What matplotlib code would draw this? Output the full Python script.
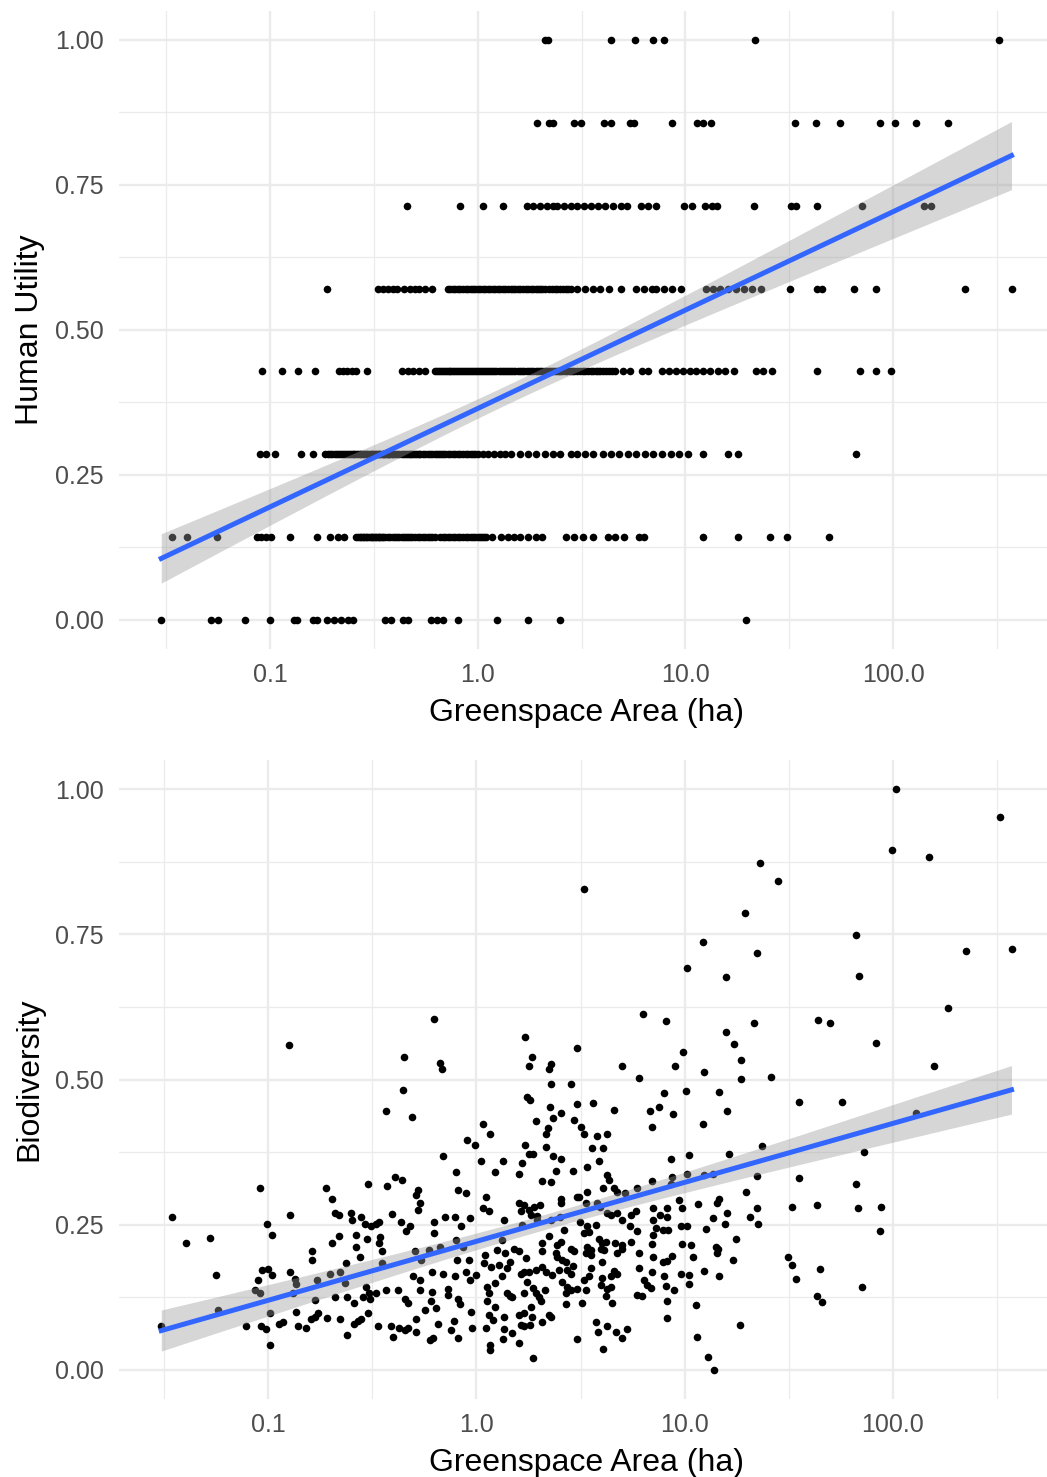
import numpy as np
import matplotlib
matplotlib.use("Agg")
import matplotlib.pyplot as plt

plt.rcParams['font.family'] = ['Liberation Sans', 'DejaVu Sans']

# ---- top panel: Human Utility (scores in steps of 1/7), greenspace area in ha per level
utility_levels = [0, 1 / 7, 2 / 7, 3 / 7, 4 / 7, 5 / 7, 6 / 7, 1]
area_u0 = [0.030, 0.052, 0.056, 0.076, 0.100, 0.130, 0.135, 0.161, 0.169, 0.188, 0.203, 0.220,
           0.237, 0.252, 0.357, 0.384, 0.435, 0.463, 0.594, 0.640, 0.681, 0.800, 1.24, 1.74,
           2.48, 19.5]
area_u1 = [0.0338, 0.040, 0.0556, 0.087, 0.091, 0.096, 0.101, 0.125, 0.168, 0.195, 0.212, 0.228,
           0.26, 0.27, 0.28, 0.29, 0.30, 0.31, 0.32, 0.33, 0.34, 0.35, 0.37, 0.39, 0.41,
           0.43, 0.45, 0.47, 0.50, 0.53, 0.56, 0.59, 0.62, 0.68, 0.72, 0.76, 0.80, 0.85, 0.90,
           0.95, 1.0, 1.05, 1.1, 1.17, 1.3, 1.4, 1.5, 1.6, 1.75, 1.9, 2.05, 2.65, 2.9, 3.2, 3.6,
           4.23, 4.58, 5.09, 5.95, 6.33, 12.2, 18.0, 25.6, 30.9, 49.2]
area_u2 = [0.0898, 0.0955, 0.106, 0.141, 0.161, 0.185, 0.195, 0.205, 0.215, 0.225, 0.235, 0.245,
           0.255, 0.265, 0.275, 0.285, 0.30, 0.31, 0.32, 0.33, 0.345, 0.36, 0.375, 0.39, 0.41,
           0.43, 0.45, 0.47, 0.49, 0.51, 0.53, 0.56, 0.59, 0.62, 0.65, 0.68, 0.72, 0.76, 0.80,
           0.85, 0.90, 0.95, 1.0, 1.06, 1.12, 1.2, 1.28, 1.36, 1.45, 1.6, 1.75, 1.9, 2.1, 2.3,
           2.5, 2.8, 3.0, 3.3, 3.6, 4.0, 4.4, 4.8, 5.3, 5.8, 6.4, 7.0, 7.7, 8.5, 9.3, 10.3,
           12.2, 16.1, 18.0, 66.0]
area_u3 = [0.0914, 0.115, 0.136, 0.164, 0.214, 0.225, 0.235, 0.248, 0.26, 0.292, 0.43, 0.46,
           0.49, 0.52, 0.56, 0.62, 0.65, 0.68, 0.71, 0.74, 0.77, 0.80, 0.84, 0.88, 0.92, 0.96,
           1.0, 1.05, 1.1, 1.15, 1.2, 1.26, 1.32, 1.38, 1.45, 1.52, 1.6, 1.68, 1.76, 1.85, 1.95,
           2.05, 2.15, 2.25, 2.35, 2.45, 2.55, 2.7, 2.85, 3.0, 3.2, 3.4, 3.6, 3.8, 4.0, 4.3, 4.6,
           5.0, 5.4, 6.21, 6.6, 7.7, 8.3, 9.0, 9.7, 10.5, 11.3, 12.2, 13.2, 14.3, 15.5, 17.1,
           21.8, 23.6, 26.0, 42.9, 68.9, 83.1, 98.0]
area_u4 = [0.189, 0.33, 0.35, 0.37, 0.39, 0.41, 0.44, 0.47, 0.50, 0.52, 0.56, 0.60, 0.72, 0.76,
           0.80, 0.85, 0.90, 0.95, 1.0, 1.06, 1.12, 1.18, 1.25, 1.32, 1.4, 1.48, 1.56, 1.65,
           1.75, 1.85, 1.95, 2.05, 2.2, 2.35, 2.5, 2.65, 2.8, 3.0, 3.3, 3.6, 3.9, 4.3, 4.9, 5.8,
           6.3, 6.9, 7.2, 7.9, 8.6, 9.5, 12.5, 13.5, 14.7, 16.0, 17.5, 19.2, 20.8, 23.2, 31.7,
           43.2, 45.5, 64.7, 83.1, 221, 371]
area_u5 = [0.458, 0.82, 1.06, 1.32, 1.72, 1.85, 2.0, 2.15, 2.3, 2.42, 2.6, 2.8, 3.0, 3.24, 3.5,
           3.8, 4.1, 4.5, 4.9, 5.25, 6.1, 6.6, 7.2, 9.8, 10.7, 12.4, 13.4, 14.2, 21.3, 32.1,
           34.1, 43.2, 71.0, 141, 152]
area_u6 = [1.92, 2.2, 2.31, 2.91, 3.16, 4.05, 4.36, 5.42, 5.66, 8.6, 11.4, 12.2, 13.3, 33.8,
           42.7, 55.7, 86, 102, 129, 184]
area_u7 = [2.11, 2.18, 4.36, 5.7, 6.95, 7.87, 21.7, 323]

# points hidden inside the solid runs of the four middle rows (overlapping markers)
dense_u1 = [0.265, 0.275, 0.285, 0.295, 0.305, 0.315, 0.325, 0.335, 0.345, 0.36, 0.38, 0.40,
            0.42, 0.44, 0.46, 0.485, 0.515, 0.545, 0.575, 0.605, 0.66, 0.70, 0.74, 0.78, 0.825,
            0.875, 0.925, 0.975, 1.025, 1.075]
dense_u2 = [0.19, 0.20, 0.21, 0.22, 0.23, 0.24, 0.25, 0.26, 0.27, 0.28, 0.29, 0.295, 0.305,
            0.315, 0.325, 0.335, 0.34, 0.35, 0.355, 0.365, 0.37, 0.38, 0.385, 0.40, 0.42, 0.44,
            0.46, 0.48, 0.50, 0.52, 0.545, 0.575, 0.605, 0.635, 0.665, 0.70, 0.74, 0.78, 0.825,
            0.875, 0.925, 0.975]
dense_u3 = [0.635, 0.665, 0.695, 0.725, 0.755, 0.785, 0.82, 0.86, 0.90, 0.94, 0.98, 1.025, 1.075,
            1.125, 1.175, 1.23, 1.29, 1.35, 1.415, 1.485, 1.56, 1.64, 1.72, 1.80, 1.90, 2.0, 2.1,
            2.2, 2.3, 2.4, 2.5, 2.62, 2.78, 2.92, 3.1, 3.3, 3.5, 3.7, 3.9, 4.15, 4.45]
dense_u4 = [0.74, 0.78, 0.825, 0.875, 0.925, 0.975, 1.03, 1.09, 1.15, 1.21, 1.285, 1.36, 1.44,
            1.52, 1.6, 1.7, 1.8, 1.9, 2.0, 2.12, 2.27, 2.42, 2.58, 2.72]

utility_areas = [area_u0, area_u1 + dense_u1, area_u2 + dense_u2, area_u3 + dense_u3,
                 area_u4 + dense_u4, area_u5, area_u6, area_u7]

# ---- bottom panel: (log10 area in ha, biodiversity)
bio_upper = [(2.013, 1.0), (2.516, 0.952), (1.995, 0.896), (2.174, 0.883), (1.364, 0.872),
             (1.447, 0.842), (0.519, 0.828), (1.291, 0.787), (1.824, 0.748), (1.086, 0.737),
             (2.353, 0.722), (2.57, 0.725), (1.348, 0.717), (1.013, 0.692), (1.837, 0.678),
             (1.198, 0.676), (2.267, 0.624), (-0.206, 0.605), (0.8, 0.613), (0.912, 0.601),
             (1.639, 0.602), (1.698, 0.597), (1.332, 0.597), (1.2, 0.582), (0.235, 0.574),
             (-0.901, 0.559), (1.238, 0.562), (1.92, 0.563), (0.484, 0.554), (0.992, 0.547),
             (-0.35, 0.538), (0.265, 0.538), (-0.176, 0.529), (-0.166, 0.519), (0.254, 0.524),
             (0.356, 0.526), (0.35, 0.519), (0.698, 0.523), (0.955, 0.523), (1.273, 0.533),
             (1.094, 0.513), (2.2, 0.523), (0.783, 0.503), (1.417, 0.505), (1.273, 0.501)]
bio_left = [(-0.353, 0.482), (-0.436, 0.445), (-0.311, 0.436), (-1.462, 0.264), (-1.397, 0.218),
            (-1.282, 0.228), (-1.253, 0.164), (-1.242, 0.104), (-1.514, 0.076), (-1.042, 0.314),
            (-1.006, 0.252), (-0.981, 0.232), (-0.894, 0.267), (-1.05, 0.155), (-1.029, 0.172),
            (-1.002, 0.173), (-0.981, 0.164), (-1.066, 0.137), (-1.038, 0.132), (-1.109, 0.076),
            (-1.034, 0.075), (-1.01, 0.070), (-0.994, 0.098), (-0.99, 0.043), (-0.946, 0.080),
            (-0.929, 0.083), (-0.897, 0.168), (-0.873, 0.156), (-0.869, 0.148), (-0.881, 0.132),
            (-0.865, 0.100), (-0.857, 0.075), (-0.817, 0.073), (-0.788, 0.205), (-0.788, 0.189),
            (-0.766, 0.155), (-0.777, 0.120), (-0.777, 0.092), (-0.761, 0.098), (-0.793, 0.087),
            (-0.721, 0.314), (-0.692, 0.294), (-0.681, 0.270), (-0.66, 0.267), (-0.66, 0.231),
            (-0.692, 0.218), (-0.705, 0.165), (-0.657, 0.168), (-0.681, 0.126), (-0.718, 0.089),
            (-0.654, 0.087), (-0.625, 0.185), (-0.633, 0.149), (-0.622, 0.060), (-0.622, 0.125),
            (-0.601, 0.271), (-0.596, 0.259), (-0.577, 0.232), (-0.58, 0.212), (-0.558, 0.195),
            (-0.556, 0.264), (-0.59, 0.115), (-0.59, 0.079), (-0.569, 0.085), (-0.553, 0.087),
            (-0.537, 0.252), (-0.526, 0.225), (-0.521, 0.320), (-0.545, 0.126), (-0.529, 0.143),
            (-0.516, 0.132), (-0.513, 0.123), (-0.521, 0.098), (-0.505, 0.247), (-0.481, 0.252),
            (-0.468, 0.255), (-0.465, 0.229), (-0.468, 0.218), (-0.452, 0.204), (-0.452, 0.184),
            (-0.481, 0.132), (-0.473, 0.075), (-0.433, 0.138), (-0.429, 0.316), (-0.404, 0.268),
            (-0.393, 0.333), (-0.356, 0.327), (-0.409, 0.075), (-0.401, 0.056), (-0.377, 0.137),
            (-0.361, 0.255), (-0.337, 0.240), (-0.321, 0.247), (-0.372, 0.072), (-0.345, 0.069),
            (-0.329, 0.073), (-0.345, 0.123), (-0.329, 0.115), (-0.304, 0.161), (-0.296, 0.205),
            (-0.288, 0.066), (-0.292, 0.087), (-0.272, 0.138), (-0.269, 0.155), (-0.28, 0.310),
            (-0.288, 0.301), (-0.269, 0.287), (-0.28, 0.275), (-0.264, 0.189), (-0.248, 0.103),
            (-0.228, 0.207), (-0.224, 0.052), (-0.208, 0.055), (-0.205, 0.255), (-0.205, 0.236),
            (-0.212, 0.168), (-0.212, 0.135), (-0.216, 0.118), (-0.192, 0.106), (-0.184, 0.079),
            (-0.176, 0.212), (-0.16, 0.166), (-0.16, 0.368), (-0.152, 0.264), (-0.136, 0.139),
            (-0.136, 0.129), (-0.12, 0.069), (-0.104, 0.264), (-0.096, 0.341), (-0.088, 0.310),
            (-0.096, 0.224), (-0.093, 0.189), (-0.104, 0.161), (-0.088, 0.123), (-0.08, 0.114),
            (-0.109, 0.085), (-0.088, 0.055), (-0.072, 0.247), (-0.064, 0.212), (-0.048, 0.304),
            (-0.045, 0.396), (-0.035, 0.189), (-0.051, 0.168), (-0.032, 0.155), (-0.029, 0.262),
            (-0.024, 0.100), (-0.019, 0.073), (-0.008, 0.387), (0.0, 0.164)]
bio_middle = [(0.356, 0.492), (0.452, 0.492), (0.901, 0.477), (1.005, 0.480), (1.165, 0.479),
              (0.244, 0.470), (0.256, 0.465), (0.481, 0.458), (0.561, 0.459), (0.353, 0.453),
              (0.407, 0.443), (0.660, 0.448), (0.832, 0.445), (0.877, 0.453), (0.946, 0.440),
              (1.205, 0.445), (0.288, 0.429), (0.369, 0.433), (0.468, 0.431), (0.5, 0.419),
              (0.030, 0.423), (0.064, 0.406), (0.343, 0.416), (0.332, 0.407), (0.516, 0.406),
              (0.577, 0.402), (0.628, 0.407), (0.845, 0.418), (1.090, 0.423), (0.231, 0.387),
              (0.332, 0.384), (0.556, 0.383), (0.609, 0.383), (0.252, 0.372), (0.272, 0.372),
              (0.369, 0.368), (0.407, 0.363), (0.022, 0.359), (0.127, 0.360), (0.220, 0.357),
              (0.588, 0.360), (0.933, 0.364), (1.021, 0.370), (1.213, 0.372), (0.091, 0.341),
              (0.204, 0.337), (0.380, 0.343), (0.465, 0.343), (0.532, 0.349), (0.628, 0.336),
              (0.636, 0.327), (0.313, 0.326), (0.356, 0.324), (0.845, 0.326), (0.941, 0.333),
              (1.013, 0.337), (1.093, 0.336), (1.138, 0.337), (0.609, 0.313), (0.663, 0.313),
              (0.676, 0.307), (0.712, 0.305), (0.532, 0.307), (0.772, 0.313), (0.933, 0.321),
              (0.048, 0.297), (0.032, 0.278), (0.059, 0.273), (0.204, 0.288), (0.228, 0.284),
              (0.276, 0.281), (0.304, 0.284), (0.404, 0.295), (0.404, 0.287), (0.481, 0.298),
              (0.492, 0.297), (0.524, 0.288), (0.580, 0.287), (0.593, 0.281), (0.260, 0.267),
              (0.292, 0.265), (0.252, 0.275), (0.215, 0.273), (0.131, 0.259), (0.356, 0.259),
              (0.401, 0.263), (0.973, 0.293), (0.989, 0.278), (1.064, 0.286), (1.165, 0.295),
              (1.157, 0.287), (1.205, 0.271), (0.849, 0.278), (0.881, 0.267), (0.913, 0.278),
              (0.917, 0.264), (0.220, 0.250), (0.292, 0.258), (0.497, 0.255), (0.529, 0.247),
              (0.572, 0.250), (0.700, 0.258), (0.740, 0.267), (0.764, 0.273), (0.628, 0.270),
              (0.644, 0.267), (0.676, 0.270), (0.849, 0.258), (0.861, 0.244), (0.897, 0.241),
              (0.920, 0.241), (0.981, 0.248), (1.013, 0.247), (1.101, 0.242), (1.138, 0.261),
              (1.192, 0.251), (0.348, 0.231), (0.420, 0.241), (0.516, 0.236), (0.540, 0.238),
              (0.737, 0.248), (0.772, 0.240), (0.849, 0.232), (0.123, 0.223), (0.099, 0.207),
              (0.139, 0.201), (0.179, 0.209), (0.204, 0.204), (0.316, 0.218), (0.388, 0.215),
              (0.404, 0.221), (0.452, 0.209), (0.532, 0.212), (0.548, 0.207), (0.588, 0.225),
              (0.604, 0.218), (0.620, 0.221), (0.665, 0.219), (0.700, 0.215), (0.740, 0.221),
              (0.596, 0.209), (0.612, 0.207), (0.676, 0.201), (0.700, 0.209), (0.043, 0.198),
              (0.035, 0.185), (0.071, 0.178), (0.163, 0.186), (0.236, 0.192), (0.316, 0.204),
              (0.380, 0.201), (0.388, 0.195), (0.412, 0.189), (0.428, 0.186), (0.468, 0.204),
              (0.524, 0.201), (0.548, 0.198), (0.604, 0.186), (0.780, 0.201), (0.845, 0.217),
              (0.849, 0.195), (0.941, 0.196), (0.897, 0.186), (0.917, 0.188), (0.989, 0.217),
              (1.029, 0.215), (1.042, 0.195), (1.149, 0.212), (1.157, 0.201), (1.160, 0.209),
              (0.123, 0.161), (0.107, 0.181), (0.147, 0.175), (0.212, 0.166), (0.228, 0.169),
              (0.252, 0.169), (0.284, 0.172), (0.316, 0.178), (0.332, 0.169), (0.364, 0.164),
              (0.396, 0.172), (0.436, 0.172), (0.452, 0.166), (0.465, 0.179), (0.516, 0.155),
              (0.540, 0.161), (0.548, 0.175), (0.604, 0.158), (0.644, 0.161), (0.663, 0.171),
              (0.673, 0.166), (0.780, 0.175), (0.845, 0.169), (0.901, 0.161), (0.984, 0.166),
              (1.021, 0.164), (1.093, 0.171), (1.165, 0.161), (0.051, 0.143), (0.059, 0.132),
              (0.091, 0.149), (0.147, 0.133), (0.160, 0.127), (0.171, 0.125), (0.228, 0.132),
              (0.244, 0.152), (0.272, 0.141), (0.284, 0.132), (0.300, 0.126), (0.327, 0.138),
              (0.412, 0.151), (0.428, 0.132), (0.436, 0.143), (0.452, 0.137), (0.481, 0.139),
              (0.524, 0.138), (0.596, 0.146), (0.625, 0.139), (0.644, 0.143), (0.804, 0.155),
              (0.817, 0.146), (0.772, 0.129), (0.796, 0.127), (0.837, 0.141), (0.909, 0.145),
              (0.949, 0.137), (1.021, 0.148), (0.051, 0.118), (0.059, 0.095), (0.080, 0.086),
              (0.091, 0.109), (0.131, 0.091), (0.204, 0.095), (0.228, 0.098), (0.260, 0.109),
              (0.268, 0.091), (0.308, 0.119), (0.348, 0.095), (0.428, 0.114), (0.508, 0.116),
              (0.620, 0.127), (0.652, 0.116), (0.917, 0.118), (1.053, 0.112), (0.048, 0.072),
              (0.131, 0.070), (0.171, 0.064), (0.212, 0.077), (0.228, 0.075), (0.256, 0.077),
              (0.316, 0.083), (0.356, 0.092), (0.572, 0.083), (0.583, 0.066), (0.628, 0.075),
              (0.668, 0.066), (0.700, 0.055), (0.721, 0.070), (0.917, 0.089), (1.058, 0.056),
              (0.064, 0.043), (0.067, 0.034), (0.128, 0.053), (0.204, 0.047), (0.272, 0.020),
              (0.481, 0.053), (0.609, 0.036), (1.112, 0.022), (1.141, 0.0)]
bio_right = [(1.548, 0.461), (1.756, 0.461), (2.112, 0.442), (1.372, 0.386), (1.861, 0.376),
             (1.348, 0.334), (1.550, 0.331), (1.824, 0.320), (1.295, 0.306), (1.346, 0.279),
             (1.516, 0.281), (1.635, 0.284), (1.832, 0.279), (1.941, 0.281), (1.314, 0.263),
             (1.351, 0.252), (1.936, 0.239), (1.245, 0.226), (1.232, 0.190), (1.495, 0.194),
             (1.516, 0.181), (1.651, 0.174), (1.535, 0.156), (1.851, 0.142), (1.636, 0.128),
             (1.660, 0.117), (1.266, 0.077)]

x_ticks = [0.1, 1.0, 10.0, 100.0]
x_tick_labels = ["0.1", "1.0", "10.0", "100.0"]
y_ticks = [0.0, 0.25, 0.5, 0.75, 1.0]
y_tick_labels = ["0.00", "0.25", "0.50", "0.75", "1.00"]


def lm_band(x, y, n_grid=100):
    # linear fit on log10(area) with a 95% confidence band, as geom_smooth(method="lm")
    lx = np.log10(x)
    slope, icpt = np.polyfit(lx, y, 1)
    gx = np.linspace(lx.min(), lx.max(), n_grid)
    fit = icpt + slope * gx
    resid = y - (icpt + slope * lx)
    n = len(y)
    s = np.sqrt(np.sum(resid ** 2) / (n - 2))
    se = s * np.sqrt(1 / n + (gx - lx.mean()) ** 2 / np.sum((lx - lx.mean()) ** 2))
    return 10 ** gx, fit, 1.965 * se


def style_axis(ax, x, ylabel):
    lx = np.log10(x)
    span = lx.max() - lx.min()
    ax.set_xscale('log')
    ax.set_xlim(10 ** (lx.min() - 0.05 * span), 10 ** (lx.max() + 0.05 * span))
    ax.set_ylim(-0.05, 1.05)
    ax.set_xticks(x_ticks)
    ax.set_xticklabels(x_tick_labels)
    ax.set_xticks([10 ** v for v in (-1.5, -0.5, 0.5, 1.5, 2.5)], minor=True)
    ax.set_xticklabels([], minor=True)
    ax.set_yticks(y_ticks)
    ax.set_yticklabels(y_tick_labels)
    ax.set_yticks([0.125, 0.375, 0.625, 0.875], minor=True)
    ax.grid(which='major', color='#EBEBEB', linewidth=1.7)
    ax.grid(which='minor', color='#EBEBEB', linewidth=0.9)
    ax.set_axisbelow(True)
    for sp in ax.spines.values():
        sp.set_visible(False)
    ax.tick_params(which='both', length=0, labelsize=18, labelcolor='#4D4D4D')
    ax.tick_params(axis='x', pad=10)
    ax.tick_params(axis='y', pad=11)
    ax.set_xlabel("Greenspace Area (ha)", fontsize=23, labelpad=8)
    ax.set_ylabel(ylabel, fontsize=23, labelpad=7)


fig = plt.figure(figsize=(10.47, 14.77), dpi=100)
ax1 = fig.add_axes([0.1134, 0.5606, 0.8933, 0.432])
ax2 = fig.add_axes([0.1134, 0.0528, 0.8933, 0.4326])

# top panel
ux = np.concatenate([np.array(a, dtype=float) for a in utility_areas])
uy = np.concatenate([np.full(len(a), lev) for a, lev in zip(utility_areas, utility_levels)])
ax1.scatter(ux, uy, s=30, color='black', linewidths=0, zorder=2)
gx, fit, ci = lm_band(ux, uy)
ax1.fill_between(gx, fit - ci, fit + ci, color='#999999', alpha=0.4, linewidth=0, zorder=3)
ax1.plot(gx, fit, color='#3366FF', linewidth=3.6, zorder=4)
style_axis(ax1, ux, "Human Utility")

# bottom panel
pts = np.array(bio_upper + bio_left + bio_middle + bio_right)
bx = 10 ** pts[:, 0]
by = pts[:, 1]
ax2.scatter(bx, by, s=30, color='black', linewidths=0, zorder=2)
gx, fit, ci = lm_band(bx, by)
ax2.fill_between(gx, fit - ci, fit + ci, color='#999999', alpha=0.4, linewidth=0, zorder=3)
ax2.plot(gx, fit, color='#3366FF', linewidth=3.6, zorder=4)
style_axis(ax2, bx, "Biodiversity")

fig.savefig("out.png", dpi=100)
